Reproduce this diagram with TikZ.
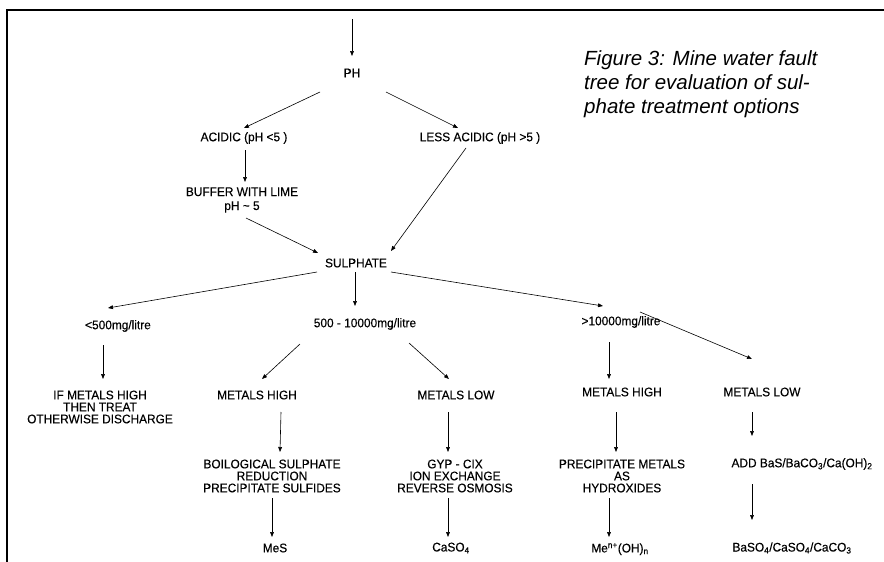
\documentclass[tikz,border=0pt]{standalone}
\usepackage{fontspec}
\setmainfont{Liberation Sans}
\newfontfamily\diafont[FakeStretch=0.95,FakeBold=0.3]{Liberation Sans}
\newfontfamily\capfont{Liberation Sans}
\usetikzlibrary{arrows.meta,calc}
\tikzset{
  lbl/.style={inner sep=0pt, align=center, font=\diafont\fontsize{12.5}{12}\selectfont},
  arr/.style={-{Triangle[length=5pt,width=3.8pt]}, line width=0.6pt},
  frame/.style={line width=1.6pt}
}
\begin{document}
\begin{tikzpicture}[x=1pt,y=-1pt]
\useasboundingbox (0,0) rectangle (884,562);
% frame
\coordinate (fbl) at (7,562);
\coordinate (ftl) at (7,10);
\coordinate (ftr) at (884,10);
\draw[frame] (fbl) -- (ftl) -- (ftr);
% caption
\node[anchor=north west, inner sep=0pt, align=left, font=\capfont\itshape\fontsize{20.5}{24}\selectfont] (cap) at (584,50)
  {Figure 3: Mine water fault\\tree for evaluation of sul-\\phate treatment options};
% nodes
\node[lbl] (ph) at (352,73) {PH};
\node[lbl] (acidic) at (244,138) {ACIDIC (pH <5 )};
\node[lbl] (less) at (480,138) {LESS ACIDIC (pH >5 )};
\node[lbl, font=\diafont\fontsize{12.5}{14}\selectfont] (buffer) at (242,200) {BUFFER WITH LIME\\pH \textasciitilde{} 5};
\node[lbl] (sulph) at (356,263) {SULPHATE};
\node[lbl] (low) at (118,326) {<500mg/litre};
\node[lbl] (mid) at (365,324) {500 - 10000mg/litre};
\node[lbl] (high) at (621,322) {>10000mg/litre};
\node[lbl] (ifm) at (100,407) {IF METALS HIGH\\THEN TREAT\\OTHERWISE DISCHARGE};
\node[lbl] (mh1) at (257,395) {METALS HIGH};
\node[lbl] (ml1) at (456,395) {METALS LOW};
\node[lbl] (mh2) at (622,392) {METALS HIGH};
\node[lbl] (ml2) at (762,392) {METALS LOW};
\node[lbl] (bio) at (272,476) {BOILOGICAL SULPHATE\\REDUCTION\\PRECIPITATE SULFIDES};
\node[lbl] (gyp) at (455,476) {GYP - CIX\\ION EXCHANGE\\REVERSE OSMOSIS};
\node[lbl] (prec) at (622,476) {PRECIPITATE METALS\\AS\\HYDROXIDES};
\node[lbl] (add) at (802,464) {ADD BaS/BaCO\textsubscript{3}/Ca(OH)\textsubscript{2}};
\node[lbl] (mes) at (275,548) {MeS};
\node[lbl] (caso) at (451,548) {CaSO\textsubscript{4}};
\node[lbl] (meoh) at (620,549) {Me\textsuperscript{n+}(OH)\textsubscript{n}};
\node[lbl] (baso) at (792,548) {BaSO\textsubscript{4}/CaSO\textsubscript{4}/CaCO\textsubscript{3}};
% connectors
\coordinate (in) at (352,19);
\draw[arr] (in) -- ($(ph)+(0,-17)$);
\draw[arr] ($(ph)+(-32,19)$) -- ($(acidic)+(0,-10)$);
\draw[arr] ($(ph)+(34,19)$) -- ($(less)+(-22,-10)$);
\draw[arr] ($(acidic)+(1,12)$) -- ($(buffer)+(3,-18)$);
\draw[arr] ($(buffer)+(4,18)$) -- ($(sulph)+(-38,-10)$);
\draw[arr] ($(less)+(-14,10)$) -- ($(sulph)+(35,-12)$);
\draw[arr] ($(sulph)+(-39,9)$) -- ($(low)+(-10,-18)$);
\draw[arr] ($(sulph)+(-1,9)$) -- ($(mid)+(-10,-18)$);
\draw[arr] ($(sulph)+(35,9)$) -- ($(high)+(-18,-16)$);
\draw[arr] ($(low)+(-15,19)$) -- ($(ifm)+(3,-28)$);
\draw[arr] ($(mid)+(-65,20)$) -- ($(mh1)+(5,-16)$);
\draw[arr] ($(mid)+(44,19)$) -- ($(ml1)+(-7,-16)$);
\draw[arr] ($(high)+(-12,20)$) -- ($(mh2)+(-13,-13)$);
\draw[arr] ($(high)+(19,-10)$) -- ($(ml2)+(-10,-33)$);
\draw[arr] ($(mh1)+(24,17)$) -- ($(bio)+(8,-24)$);
\draw[arr] ($(ml1)+(-8,17)$) -- ($(gyp)+(-7,-24)$);
\draw[arr] ($(mh2)+(-6,20)$) -- ($(prec)+(-6,-24)$);
\draw[arr] ($(ml2)+(-10,20)$) -- ($(add)+(-50,-28)$);
\draw[arr] ($(bio)+(0,22)$) -- ($(mes)+(-3,-11)$);
\draw[arr] ($(gyp)+(-7,22)$) -- ($(caso)+(-3,-11)$);
\draw[arr] ($(prec)+(-13,22)$) -- ($(meoh)+(-11,-12)$);
\draw[arr] ($(add)+(-50,20)$) -- ($(baso)+(-40,-28)$);
\end{tikzpicture}
\end{document}
